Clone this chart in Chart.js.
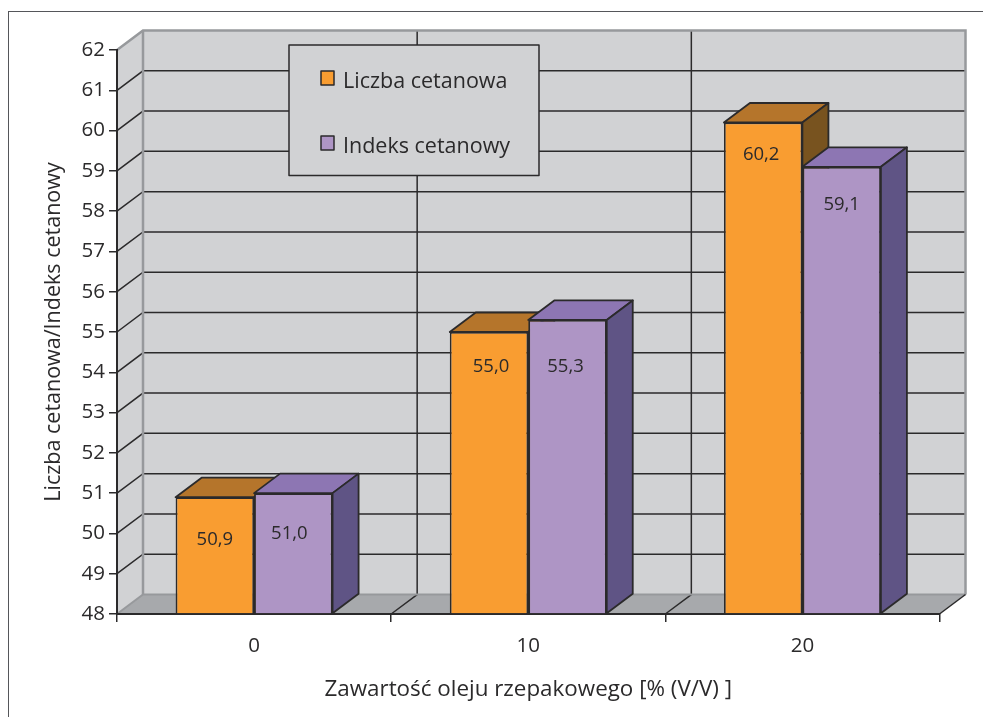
<!DOCTYPE html>
<html>
<head>
<meta charset="utf-8">
<script src="https://cdn.jsdelivr.net/npm/chart.js@4"></script>
<style>
    html, body { margin: 0; background: #fff; overflow: hidden; }
    #frame { position: absolute; left: 8px; top: 11px; right: 0; bottom: 0; border-left: 1px solid #55565a; border-top: 1px solid #55565a; }
    canvas { position: absolute; left: 0; top: 0; }
</style>
</head>
<body>
<div id="frame"></div>
<canvas id="cetaneChart" width="983" height="717"></canvas>
<script>
const categories = ['0', '10', '20'];
const liczbaCetanowa = [50.9, 55.0, 60.2];
const indeksCetanowy = [51.0, 55.3, 59.1];
const seriesNames = ['Liczba cetanowa', 'Indeks cetanowy'];
const yTitle = 'Liczba cetanowa/Indeks cetanowy';
const xTitle = 'Zawartość oleju rzepakowego [% (V/V) ]';
const yMin = 48;
const yMax = 62;

const FONT = '"Open Sans"';
const INK = '#2b2a2b';
const DEPTH_X = 26;
const DEPTH_Y = -19.5;

// front, top and side colour for each series
const faces = [
    { front: '#f99d31', top: '#b5752b', side: '#78531f' },
    { front: '#ae95c5', top: '#8d76b3', side: '#5f5485' }
];

// the value labels sit by hand inside the bars: [dx, dy from the bar top]
const labelNudge = [
    [[0, 43], [2, 35], [-2, 32]],
    [[-4, 41], [-2, 47], [0, 38]]
];

function poly(ctx, pts, fill, stroke, width) {
    ctx.beginPath();
    pts.forEach((p, i) => i ? ctx.lineTo(p[0], p[1]) : ctx.moveTo(p[0], p[1]));
    ctx.closePath();
    if (fill) {
        ctx.fillStyle = fill;
        ctx.fill();
    }
    if (stroke) {
        ctx.strokeStyle = stroke;
        ctx.lineWidth = width;
        ctx.lineJoin = 'round';
        ctx.stroke();
    }
}

function segs(ctx, pts, stroke, width) {
    ctx.beginPath();
    pts.forEach((p, i) => i ? ctx.lineTo(p[0], p[1]) : ctx.moveTo(p[0], p[1]));
    ctx.strokeStyle = stroke;
    ctx.lineWidth = width;
    ctx.stroke();
}

const box3d = {
    id: 'box3d',
    beforeDraw(chart) {
        const ctx = chart.ctx;
        const a = chart.chartArea;
        const x = chart.scales.x;
        const y = chart.scales.y;
        const dx = DEPTH_X, dy = DEPTH_Y;
        ctx.save();
        // side wall, back wall, floor
        poly(ctx, [[a.left, a.top], [a.left + dx, a.top + dy], [a.left + dx, a.bottom + dy], [a.left, a.bottom]], '#d1d2d4');
        poly(ctx, [[a.left + dx, a.top + dy], [a.right + dx, a.top + dy], [a.right + dx, a.bottom + dy], [a.left + dx, a.bottom + dy]], '#d1d2d4');
        poly(ctx, [[a.left, a.bottom], [a.left + dx, a.bottom + dy], [a.right + dx, a.bottom + dy], [a.right, a.bottom]], '#a7a9ac');

        // grid lines run over the side wall and along the back wall
        y.ticks.forEach(t => {
            if (t.value === y.min || t.value === y.max) return;
            const py = y.getPixelForValue(t.value);
            segs(ctx, [[a.left, py], [a.left + dx, py + dy], [a.right + dx, py + dy]], INK, 1.5);
        });
        categories.forEach((c, i) => {
            if (i === 0) return;
            const px = (x.getPixelForValue(i - 1) + x.getPixelForValue(i)) / 2;
            segs(ctx, [[px, a.bottom], [px + dx, a.bottom + dy], [px + dx, a.top + dy]], INK, 1.5);
        });

        // wall edges
        segs(ctx, [[a.left, a.bottom], [a.left + dx, a.bottom + dy], [a.right + dx, a.bottom + dy]], '#97999c', 2);
        segs(ctx, [[a.left, a.top], [a.left + dx, a.top + dy], [a.right + dx, a.top + dy], [a.right + dx, a.bottom + dy]], '#97999c', 2.5);
        segs(ctx, [[a.left + dx, a.top + dy], [a.left + dx, a.bottom + dy]], '#97999c', 2.5);
        segs(ctx, [[a.right + dx, a.bottom + dy], [a.right, a.bottom]], INK, 1.5);
        ctx.restore();
    },
    beforeDatasetsDraw(chart) {
        const ctx = chart.ctx;
        const dx = DEPTH_X, dy = DEPTH_Y;
        ctx.save();
        // tops and sides first, the library paints the fronts over them
        categories.forEach((c, i) => {
            chart.data.datasets.forEach((ds, d) => {
                const b = chart.getDatasetMeta(d).data[i];
                const l = b.x - b.width / 2, r = b.x + b.width / 2;
                poly(ctx, [[l, b.y], [l + dx, b.y + dy], [r + dx, b.y + dy], [r, b.y]], faces[d].top, INK, 1.8);
                poly(ctx, [[r, b.y], [r + dx, b.y + dy], [r + dx, b.base + dy], [r, b.base]], faces[d].side, INK, 1.8);
            });
        });
        ctx.restore();
    },
    afterDatasetsDraw(chart) {
        const ctx = chart.ctx;
        ctx.save();
        // value labels
        ctx.font = '18.5px ' + FONT;
        ctx.fillStyle = INK;
        ctx.textAlign = 'center';
        ctx.textBaseline = 'middle';
        chart.data.datasets.forEach((ds, d) => {
            chart.getDatasetMeta(d).data.forEach((b, i) => {
                const text = ds.data[i].toFixed(1).replace('.', ',');
                ctx.fillText(text, b.x + labelNudge[d][i][0], b.y + labelNudge[d][i][1]);
            });
        });

        // legend box
        poly(ctx, [[289, 45], [539, 45], [539, 175.5], [289, 175.5]], '#d1d2d4', INK, 1.5);
        ctx.font = '21.5px ' + FONT;
        ctx.textAlign = 'left';
        chart.data.datasets.forEach((ds, d) => {
            const ly = 78 + d * 65;
            poly(ctx, [[321, ly - 7], [334, ly - 7], [334, ly + 7], [321, ly + 7]], ds.backgroundColor, INK, 1.5);
            ctx.fillStyle = INK;
            ctx.fillText(ds.label, 343, ly + 3.5);
        });
        ctx.restore();
    }
};

new Chart(document.getElementById('cetaneChart'), {
    type: 'bar',
    data: {
        labels: categories,
        datasets: [
            { label: seriesNames[0], data: liczbaCetanowa, backgroundColor: faces[0].front },
            { label: seriesNames[1], data: indeksCetanowy, backgroundColor: faces[1].front }
        ]
    },
    options: {
        responsive: false,
        animation: false,
        layout: { padding: { left: 0, right: 43.5, top: 50, bottom: 0 } },
        datasets: {
            bar: {
                base: yMin,
                barPercentage: 1,
                categoryPercentage: 0.5726,
                borderColor: INK,
                borderWidth: 1.8
            }
        },
        plugins: {
            legend: { display: false },
            tooltip: { enabled: false }
        },
        scales: {
            x: {
                afterFit: scale => { scale.height = 103; },
                grid: { offset: true, drawOnChartArea: false, color: INK, lineWidth: 1.5, tickLength: 8 },
                border: { color: INK, width: 2 },
                ticks: { color: INK, padding: 12, maxRotation: 0, font: { family: FONT, size: 20.5 } },
                title: { display: true, text: xTitle, color: INK, padding: { bottom: 14 }, font: { family: FONT, size: 22.4 } }
            },
            y: {
                min: yMin,
                max: yMax,
                afterFit: scale => { scale.width = 117; },
                grid: { drawOnChartArea: false, color: INK, lineWidth: 1.5, tickLength: 8 },
                border: { color: INK, width: 2 },
                ticks: { stepSize: 1, color: INK, padding: 4, font: { family: FONT, size: 20.5 } },
                title: { display: true, text: yTitle, color: INK, padding: { top: 41 }, font: { family: FONT, size: 21.5 } }
            }
        }
    },
    plugins: [box3d]
});
</script>
</body>
</html>
